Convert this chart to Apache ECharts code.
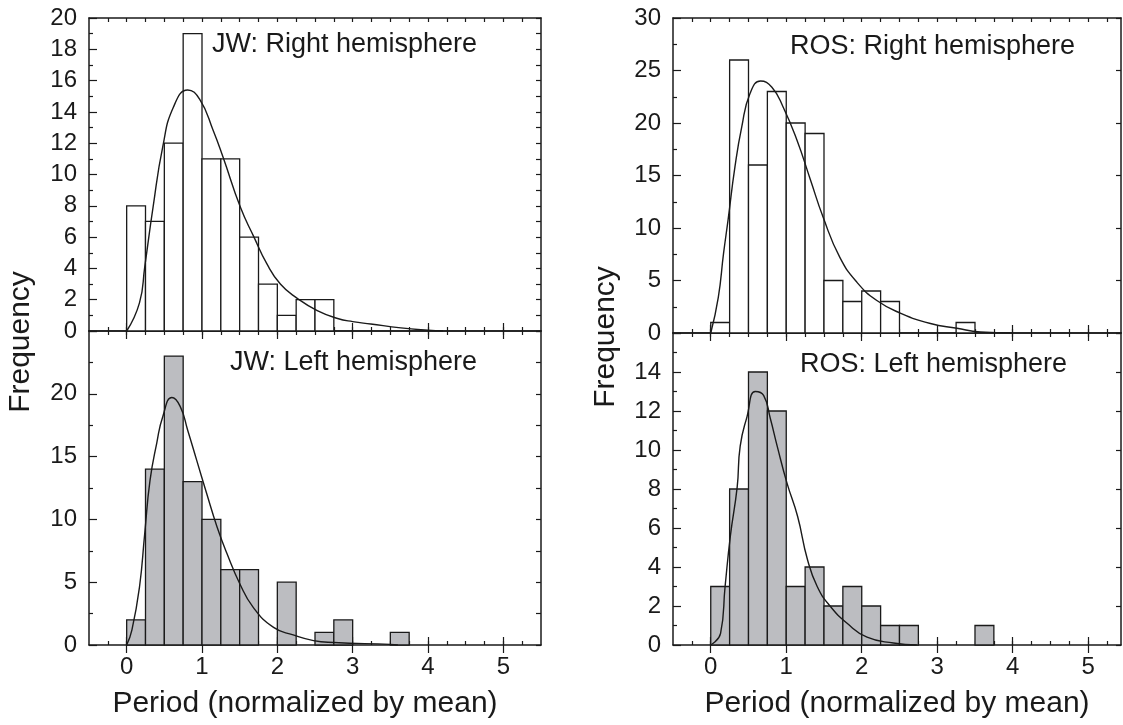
<!DOCTYPE html>
<html>
<head>
<meta charset="utf-8">
<script src="https://cdn.jsdelivr.net/npm/echarts@6/dist/echarts.min.js"></script>
<style>
  html, body { margin: 0; padding: 0; background: #fff; }
  #chart { width: 1123px; height: 725px; }
</style>
</head>
<body>
<div id="chart"></div>
<script>
// histogram bins (left edges), width 0.25
const binStarts = [0, 0.25, 0.5, 0.75, 1, 1.25, 1.5, 1.75, 2, 2.25, 2.5, 2.75, 3, 3.25, 3.5];
const binWidth = 0.25;

// counts per bin
const jwRightCounts = [8, 7, 12, 19, 11, 11, 6, 3, 1, 2, 2];
const jwLeftCounts = [2, 14, 23, 13, 10, 6, 6, 0, 5, 0, 1, 2, 0, 0, 1];
const rosRightCounts = [1, 26, 16, 23, 20, 19, 5, 3, 4, 3, 0, 0, 0, 1];
const rosLeftCounts = [3, 8, 14, 12, 3, 4, 2, 3, 2, 1, 1, 0, 0, 0, 1];

// fitted curves [period, frequency]
const jwRightFit = [[0, 0], [0.17, 1.8], [0.24, 4.1], [0.35, 7.9], [0.48, 11.8], [0.62, 14.3], [0.81, 15.4],
  [0.97, 14.8], [1.15, 12.8], [1.28, 11.1], [1.51, 7.9], [1.69, 6.0], [1.86, 4.3], [2.04, 3.0], [2.26, 2.1],
  [2.53, 1.3], [2.8, 0.8], [3.0, 0.6], [3.24, 0.45], [3.64, 0.2], [4.0, 0.05], [4.2, 0]];
const jwLeftFit = [[0, 0], [0.07, 1.2], [0.17, 4.6], [0.24, 8.9], [0.31, 13.1], [0.4, 16.1], [0.48, 18.2],
  [0.6, 19.7], [0.71, 19.0], [0.81, 17.1], [0.93, 14.7], [1.06, 12.1], [1.2, 9.4], [1.33, 7.3], [1.5, 4.9],
  [1.68, 3.0], [1.95, 1.4], [2.21, 0.8], [2.48, 0.35], [2.75, 0.2], [3.5, 0.05], [3.6, 0]];
const rosRightFit = [[0, 0], [0.1, 3.4], [0.17, 7.6], [0.23, 10.8], [0.32, 15.8], [0.41, 19.6], [0.52, 22.8],
  [0.66, 24.0], [0.81, 23.4], [0.96, 21.5], [1.14, 18.4], [1.32, 14.6], [1.49, 11.0], [1.71, 7.2], [1.94, 4.8],
  [2.2, 3.1], [2.51, 1.9], [2.91, 0.9], [3.26, 0.45], [3.57, 0.1], [4.0, 0]];
const rosLeftFit = [[0, 0], [0.13, 0.6], [0.19, 3.0], [0.26, 5.6], [0.35, 8.1], [0.39, 10.2], [0.48, 11.7],
  [0.59, 13.0], [0.7, 12.8], [0.79, 11.6], [0.88, 10.2], [1.01, 8.3], [1.15, 6.6], [1.28, 4.4], [1.41, 3.0],
  [1.58, 2.0], [1.81, 1.1], [2.07, 0.4], [2.42, 0.1], [2.73, 0]];

const xMajorTicks = [0, 1, 2, 3, 4, 5];
const panelTitles = ['JW: Right hemisphere', 'JW: Left hemisphere', 'ROS: Right hemisphere', 'ROS: Left hemisphere'];
const xTitle = 'Period (normalized by mean)';
const yTitle = 'Frequency';

const FONT = '"Liberation Sans", Arial, Helvetica, sans-serif';
const INK = '#1a1a1a';
const GREY = '#bcbdc1';

// layout of the four panels
const panels = [
  { grid: { left: 89, top: 18, width: 452, height: 313 }, xMax: 5.5, yMax: 20, yStep: 2, ySplit: 2, rStep: 1, counts: jwRightCounts, fit: jwRightFit, fill: '#fff', labels: false, hideTop: false },
  { grid: { left: 89, top: 331, width: 452, height: 314 }, xMax: 5.5, yMax: 25, yStep: 5, ySplit: 2, rStep: 2.5, counts: jwLeftCounts, fit: jwLeftFit, fill: GREY, labels: true, hideTop: true },
  { grid: { left: 673, top: 18, width: 448, height: 315 }, xMax: 5.434, yMax: 30, yStep: 5, ySplit: 2, rStep: 5, counts: rosRightCounts, fit: rosRightFit, fill: '#fff', labels: false, hideTop: false },
  { grid: { left: 673, top: 333, width: 448, height: 312 }, xMax: 5.434, yMax: 16, yStep: 2, ySplit: 2, rStep: 2, counts: rosLeftCounts, fit: rosLeftFit, fill: GREY, labels: true, hideTop: true },
];

const quarterTicks = [];
for (let i = -1; i <= 21; i++) quarterTicks.push(i * 0.25);

const grid = [], xAxis = [], yAxis = [], series = [];
const line = { show: true, lineStyle: { color: INK, width: 1.5 } };

panels.forEach((p, gi) => {
  grid.push(Object.assign({ containLabel: false }, p.grid));

  ['bottom', 'top'].forEach((pos) => {
    xAxis.push({
      type: 'value', gridIndex: gi, position: pos, min: -0.5, max: p.xMax,
      axisLine: Object.assign({ onZero: false }, line),
      axisTick: { show: true, inside: true, length: 4, customValues: quarterTicks, lineStyle: { color: INK, width: 1.2 } },
      axisLabel: {
        show: pos === 'bottom' && p.labels, customValues: xMajorTicks, margin: 10,
        fontFamily: FONT, fontSize: 24, color: INK,
      },
      splitLine: { show: false },
    });
    xAxis.push({
      type: 'value', gridIndex: gi, position: pos, min: -0.5, max: p.xMax,
      axisLine: { show: false },
      axisTick: { show: true, inside: true, length: 8, customValues: xMajorTicks, lineStyle: { color: INK, width: 1.2 } },
      axisLabel: { show: false },
      splitLine: { show: false },
    });
  });

  yAxis.push({
    type: 'value', gridIndex: gi, position: 'left', min: 0, max: p.yMax, interval: p.yStep,
    axisLine: Object.assign({ onZero: false }, line),
    axisTick: { show: true, inside: true, length: 8, lineStyle: { color: INK, width: 1.2 } },
    minorTick: { show: true, splitNumber: p.ySplit, length: 4, lineStyle: { color: INK, width: 1.2 } },
    axisLabel: {
      margin: 12, fontFamily: FONT, fontSize: 24, color: INK,
      formatter: (v) => (p.hideTop && v === p.yMax ? '' : String(v)),
    },
    splitLine: { show: false },
  });
  yAxis.push({
    type: 'value', gridIndex: gi, position: 'right', min: 0, max: p.yMax, interval: p.rStep,
    axisLine: Object.assign({ onZero: false }, line),
    axisTick: { show: true, inside: true, length: 5, lineStyle: { color: INK, width: 1.2 } },
    axisLabel: { show: false },
    splitLine: { show: false },
  });

  const bars = [];
  p.counts.forEach((c, i) => {
    if (c > 0) bars.push([binStarts[i], binStarts[i] + binWidth, c]);
  });

  series.push({
    type: 'custom',
    xAxisIndex: gi * 4,
    yAxisIndex: gi * 2,
    silent: true,
    encode: { x: [0, 1], y: 2 },
    data: bars,
    renderItem: (params, api) => {
      const a = api.coord([api.value(0), api.value(2)]);
      const b = api.coord([api.value(1), 0]);
      return {
        type: 'rect',
        shape: { x: a[0], y: a[1], width: b[0] - a[0], height: b[1] - a[1] },
        style: { fill: p.fill, stroke: INK, lineWidth: 1.3 },
      };
    },
    z: 2,
  });

  series.push({
    type: 'line',
    xAxisIndex: gi * 4,
    yAxisIndex: gi * 2,
    data: p.fit,
    smooth: 0.5,
    showSymbol: false,
    silent: true,
    lineStyle: { color: INK, width: 1.4 },
    z: 3,
  });
});

const textStyle = (size) => ({ fill: INK, fontFamily: FONT, fontSize: size });

const graphic = [
  { type: 'text', left: 212, top: 31, style: Object.assign({ text: panelTitles[0] }, textStyle(27)) },
  { type: 'text', left: 230, top: 349, style: Object.assign({ text: panelTitles[1] }, textStyle(27)) },
  { type: 'text', left: 790, top: 33, style: Object.assign({ text: panelTitles[2] }, textStyle(27)) },
  { type: 'text', left: 800, top: 351, style: Object.assign({ text: panelTitles[3] }, textStyle(27)) },
  { type: 'text', x: 305, y: 704, style: Object.assign({ text: xTitle, align: 'center', verticalAlign: 'middle' }, textStyle(30)) },
  { type: 'text', x: 897, y: 704, style: Object.assign({ text: xTitle, align: 'center', verticalAlign: 'middle' }, textStyle(30)) },
  { type: 'text', x: 21, y: 342, rotation: Math.PI / 2, style: Object.assign({ text: yTitle, align: 'center', verticalAlign: 'middle' }, textStyle(30)) },
  { type: 'text', x: 606, y: 337, rotation: Math.PI / 2, style: Object.assign({ text: yTitle, align: 'center', verticalAlign: 'middle' }, textStyle(30)) },
];

const chart = echarts.init(document.getElementById('chart'), null, { renderer: 'canvas' });
chart.setOption({
  animation: false,
  backgroundColor: '#fff',
  grid,
  xAxis,
  yAxis,
  series,
  graphic,
});
</script>
</body>
</html>
